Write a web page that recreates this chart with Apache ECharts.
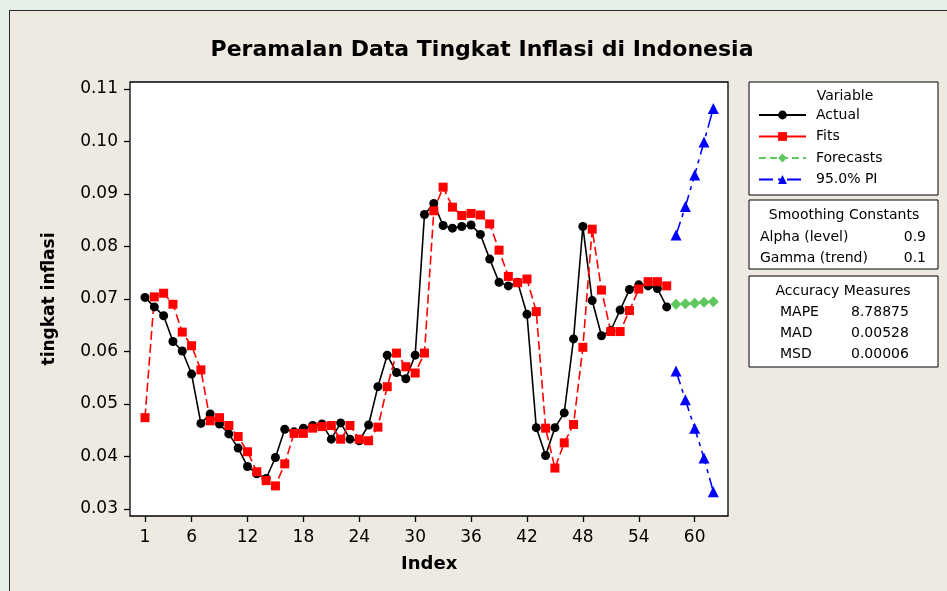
<!DOCTYPE html>
<html>
<head>
<meta charset="utf-8">
<script src="https://cdn.jsdelivr.net/npm/echarts@6/dist/echarts.min.js"></script>
<style>
  html, body { margin: 0; padding: 0; background: #e4f0e7; }
  #panel {
    position: absolute; left: 9px; top: 10px; width: 950px; height: 600px;
    background: #eeeae1; border: 1px solid #2a2a2a;
  }
  #chart { position: absolute; left: 0; top: 0; width: 947px; height: 591px; }
</style>
</head>
<body>
<div id="panel"></div>
<div id="chart"></div>
<script>
// index 1..62, only some of them get a tick
const xTickLabels = [1, 6, 12, 18, 24, 30, 36, 42, 48, 54, 60]

const actual = [
  0.0703, 0.0685, 0.0668, 0.0619, 0.0601, 0.0557, 0.0463, 0.0481, 0.0462, 0.0443,
  0.0416, 0.0381, 0.0367, 0.0358, 0.0398, 0.0452, 0.0447, 0.0454, 0.0459, 0.0462,
  0.0433, 0.0464, 0.0433, 0.0430, 0.0460, 0.0533, 0.0593, 0.0560, 0.0548, 0.0593,
  0.0861, 0.0882, 0.0840, 0.0835, 0.0838, 0.0841, 0.0823, 0.0776, 0.0732, 0.0725,
  0.0732, 0.0671, 0.0455, 0.0402, 0.0455, 0.0483, 0.0624, 0.0838, 0.0697, 0.0630,
  0.0640, 0.0679, 0.0718, 0.0727, 0.0725, 0.0720, 0.0685
]
const fits = [
  0.0474, 0.0704, 0.0711, 0.0690, 0.0637, 0.0611, 0.0565, 0.0468, 0.0474, 0.0459,
  0.0438, 0.0409, 0.0371, 0.0354, 0.0344, 0.0386, 0.0444, 0.0444, 0.0454, 0.0457,
  0.0459, 0.0433, 0.0459, 0.0433, 0.0430, 0.0456, 0.0533, 0.0597, 0.0571, 0.0559,
  0.0597, 0.0868, 0.0913, 0.0875, 0.0859, 0.0863, 0.0860, 0.0843, 0.0793, 0.0743,
  0.0731, 0.0738, 0.0676, 0.0454, 0.0378, 0.0426, 0.0461, 0.0608, 0.0833, 0.0717,
  0.0638, 0.0638, 0.0678, 0.0719, 0.0733, 0.0733, 0.0725
]
// forecast part starts at index 58
const forecasts = [0.0690, 0.0691, 0.0692, 0.0694, 0.0695]
const piUpper = [0.0822, 0.0876, 0.0936, 0.0999, 0.1063]
const piLower = [0.0563, 0.0508, 0.0454, 0.0397, 0.0333]

const nIndex = actual.length + forecasts.length
const categories = Array.from({ length: nIndex }, (_, i) => String(i + 1))
const pad = (arr, start) => categories.map((_, i) => {
  const k = i - start
  return k >= 0 && k < arr.length ? arr[k] : null
})

const FONT = 'DejaVu Sans'
const showTick = (idx) => xTickLabels.includes(idx + 1)

const chart = echarts.init(document.getElementById('chart'))

const boxText = (text, x, y, align) => ({
  type: 'text',
  style: { text, x, y, fill: '#000', font: '14px "' + FONT + '"', textAlign: align || 'left', textVerticalAlign: 'middle' }
})

chart.setOption({
  animation: false,
  backgroundColor: 'transparent',
  title: {
    text: 'Peramalan Data Tingkat Inflasi di Indonesia',
    left: 482, top: 39, padding: 0, textAlign: 'center',
    textStyle: { fontFamily: FONT, fontSize: 22, fontWeight: 'bold', color: '#000' }
  },
  grid: [
    // frame of the plot
    { left: 130, top: 82, right: 219, bottom: 75, show: true, backgroundColor: '#fff', borderColor: '#000', borderWidth: 1.3 },
    // data area
    { left: 145, top: 89, right: 233.7, bottom: 82 }
  ],
  xAxis: [
    { gridIndex: 0, type: 'value', show: false },
    {
      gridIndex: 1, type: 'category', data: categories, boundaryGap: false, offset: 7,
      name: 'Index', nameLocation: 'middle', nameGap: 39,
      nameTextStyle: { fontFamily: FONT, fontSize: 18, fontWeight: 'bold', color: '#000' },
      axisLine: { show: false },
      axisTick: { show: true, length: 6, interval: showTick, lineStyle: { color: '#000', width: 1.3 } },
      axisLabel: { interval: showTick, fontFamily: FONT, fontSize: 17, color: '#000', margin: 13 },
      splitLine: { show: false }
    }
  ],
  yAxis: [
    { gridIndex: 0, type: 'value', show: false },
    {
      gridIndex: 1, type: 'value', min: 0.03, max: 0.11, interval: 0.01, offset: 15,
      name: 'tingkat inflasi', nameLocation: 'middle', nameGap: 72, nameRotate: 90,
      nameTextStyle: { fontFamily: FONT, fontSize: 17, fontWeight: 'bold', color: '#000' },
      axisLine: { show: false },
      axisTick: { show: true, length: 6, lineStyle: { color: '#000', width: 1.3 } },
      axisLabel: { fontFamily: FONT, fontSize: 17, color: '#000', margin: 12, formatter: (v) => v.toFixed(2) },
      splitLine: { show: false }
    }
  ],
  legend: {
    orient: 'vertical', left: 758, top: 108, padding: 0,
    itemWidth: 47, itemHeight: 11, itemGap: 7.5,
    textStyle: { fontFamily: FONT, fontSize: 14, color: '#000', lineHeight: 14, padding: [0, 0, 0, 5] },
    data: [
      { name: 'Actual' },
      { name: 'Fits', lineStyle: { type: 'solid' } },
      { name: 'Forecasts' },
      { name: '95.0% PI' }
    ],
    selectedMode: false
  },
  graphic: [
    { type: 'rect', shape: { x: 749, y: 82, width: 189, height: 113 }, style: { fill: '#fff', stroke: '#000', lineWidth: 1 } },
    boxText('Variable', 845, 96, 'center'),
    { type: 'rect', shape: { x: 749, y: 200, width: 189, height: 69 }, style: { fill: '#fff', stroke: '#000', lineWidth: 1 } },
    boxText('Smoothing Constants', 844, 215, 'center'),
    boxText('Alpha (level)', 760, 237),
    boxText('0.9', 926, 237, 'right'),
    boxText('Gamma (trend)', 760, 258),
    boxText('0.1', 926, 258, 'right'),
    { type: 'rect', shape: { x: 749, y: 276, width: 189, height: 91 }, style: { fill: '#fff', stroke: '#000', lineWidth: 1 } },
    boxText('Accuracy Measures', 843, 291, 'center'),
    boxText('MAPE', 780, 312),
    boxText('8.78875', 851, 312),
    boxText('MAD', 780, 333),
    boxText('0.00528', 851, 333),
    boxText('MSD', 780, 354),
    boxText('0.00006', 851, 354)
  ],
  series: [
    {
      name: 'Actual', type: 'line', xAxisIndex: 1, yAxisIndex: 1,
      data: pad(actual, 0), showAllSymbol: true,
      symbol: 'circle', symbolSize: 9, itemStyle: { color: '#000' },
      lineStyle: { color: '#000', width: 1.6 }
    },
    {
      name: 'Fits', type: 'line', xAxisIndex: 1, yAxisIndex: 1,
      data: pad(fits, 0), showAllSymbol: true,
      symbol: 'rect', symbolSize: 9, itemStyle: { color: '#ff0000' },
      lineStyle: { color: '#ff0000', width: 1.6, type: [9, 4] }
    },
    {
      name: 'Forecasts', type: 'line', xAxisIndex: 1, yAxisIndex: 1,
      data: pad(forecasts, actual.length), showAllSymbol: true,
      symbol: 'diamond', symbolSize: 11, itemStyle: { color: '#5ec85e' },
      lineStyle: { color: '#5ec85e', width: 1.6, type: [7, 4] }
    },
    {
      name: '95.0% PI', type: 'line', xAxisIndex: 1, yAxisIndex: 1,
      data: pad(piUpper, actual.length), showAllSymbol: true,
      symbol: 'triangle', symbolSize: 11, itemStyle: { color: '#0000ff' },
      lineStyle: { color: '#0000ff', width: 1.6, type: [14, 5, 4, 5] }
    },
    {
      name: '95.0% PI', type: 'line', xAxisIndex: 1, yAxisIndex: 1,
      data: pad(piLower, actual.length), showAllSymbol: true,
      symbol: 'triangle', symbolSize: 11, itemStyle: { color: '#0000ff' },
      lineStyle: { color: '#0000ff', width: 1.6, type: [14, 5, 4, 5] }
    }
  ]
})
</script>
</body>
</html>
